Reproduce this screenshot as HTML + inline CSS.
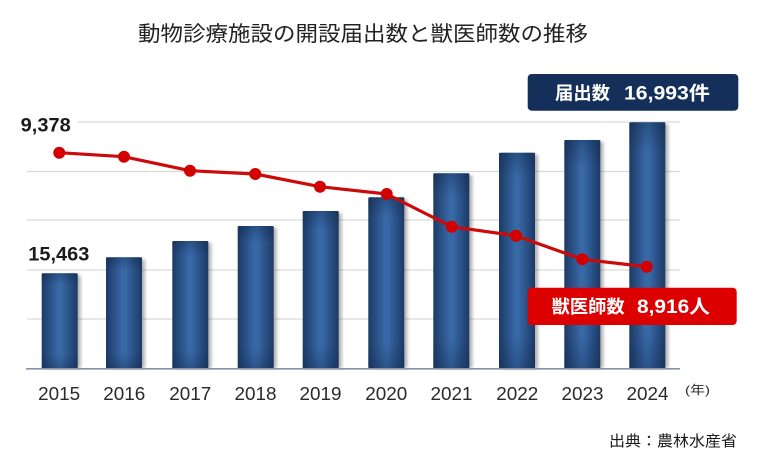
<!DOCTYPE html>
<html><head><meta charset="utf-8"><style>
html,body{margin:0;padding:0;background:#fff;}
svg{display:block;}
</style></head><body>
<svg width="767" height="461" viewBox="0 0 767 461" xmlns="http://www.w3.org/2000/svg">
<defs>
<linearGradient id="bh" x1="0" x2="1" y1="0" y2="0">
<stop offset="0" stop-color="#1c3a66"/>
<stop offset="0.45" stop-color="#3868a6"/>
<stop offset="0.55" stop-color="#3868a6"/>
<stop offset="1" stop-color="#1c3a66"/>
</linearGradient>
<linearGradient id="bv" x1="0" x2="0" y1="0" y2="1">
<stop offset="0" stop-color="#0d2345" stop-opacity="0.35"/>
<stop offset="0.12" stop-color="#0d2345" stop-opacity="0"/>
<stop offset="0.85" stop-color="#0d2345" stop-opacity="0"/>
<stop offset="1" stop-color="#0d2345" stop-opacity="0.3"/>
</linearGradient>
<filter id="sh" x="-30%" y="-10%" width="160%" height="120%"><feGaussianBlur stdDeviation="1.5"/></filter>
</defs>
<rect width="767" height="461" fill="#fff"/>
<text x="138" y="41" font-family="Liberation Sans, Noto Sans CJK JP, sans-serif" font-size="21" fill="#222" textLength="450" lengthAdjust="spacingAndGlyphs">動物診療施設の開設届出数と獣医師数の推移</text>

<!-- grid -->
<g stroke="#d9d9d9" stroke-width="1.2">
<line x1="78" y1="122" x2="680" y2="122"/>
<line x1="27" y1="171.5" x2="680" y2="171.5"/>
<line x1="27" y1="220" x2="680" y2="220"/>
<line x1="27" y1="270" x2="680" y2="270"/>
<line x1="27" y1="319" x2="680" y2="319"/>
</g>

<!-- bar shadows -->
<g fill="#555" opacity="0.45" filter="url(#sh)">
<rect x="44.7" y="275.3" width="36" height="93"/>
<rect x="109" y="259.3" width="36" height="109"/>
<rect x="175.3" y="243" width="36" height="125.5"/>
<rect x="240.7" y="228" width="36" height="140.5"/>
<rect x="305.7" y="213" width="36" height="155.5"/>
<rect x="371.3" y="199.3" width="36" height="169"/>
<rect x="436.3" y="175.3" width="36" height="193"/>
<rect x="502" y="154.7" width="36" height="214"/>
<rect x="567.3" y="142" width="36" height="226.5"/>
<rect x="632.3" y="124.3" width="36" height="244"/>
</g>
<!-- bars -->
<g>
<rect x="41.7" y="273.3" width="36" height="95.2" rx="1.5" fill="url(#bh)"/>
<rect x="106" y="257.3" width="36" height="111.2" rx="1.5" fill="url(#bh)"/>
<rect x="172.3" y="241" width="36" height="127.5" rx="1.5" fill="url(#bh)"/>
<rect x="237.7" y="226" width="36" height="142.5" rx="1.5" fill="url(#bh)"/>
<rect x="302.7" y="211" width="36" height="157.5" rx="1.5" fill="url(#bh)"/>
<rect x="368.3" y="197.3" width="36" height="171.2" rx="1.5" fill="url(#bh)"/>
<rect x="433.3" y="173.3" width="36" height="195.2" rx="1.5" fill="url(#bh)"/>
<rect x="499" y="152.7" width="36" height="215.8" rx="1.5" fill="url(#bh)"/>
<rect x="564.3" y="140" width="36" height="228.5" rx="1.5" fill="url(#bh)"/>
<rect x="629.3" y="122.3" width="36" height="246.2" rx="1.5" fill="url(#bh)"/>
</g>
<g>
<rect x="41.7" y="273.3" width="36" height="95.2" fill="url(#bv)"/>
<rect x="106" y="257.3" width="36" height="111.2" fill="url(#bv)"/>
<rect x="172.3" y="241" width="36" height="127.5" fill="url(#bv)"/>
<rect x="237.7" y="226" width="36" height="142.5" fill="url(#bv)"/>
<rect x="302.7" y="211" width="36" height="157.5" fill="url(#bv)"/>
<rect x="368.3" y="197.3" width="36" height="171.2" fill="url(#bv)"/>
<rect x="433.3" y="173.3" width="36" height="195.2" fill="url(#bv)"/>
<rect x="499" y="152.7" width="36" height="215.8" fill="url(#bv)"/>
<rect x="564.3" y="140" width="36" height="228.5" fill="url(#bv)"/>
<rect x="629.3" y="122.3" width="36" height="246.2" fill="url(#bv)"/>
</g>

<!-- baseline -->
<line x1="26" y1="368.8" x2="680" y2="368.8" stroke="#8793a3" stroke-width="1.6"/>

<!-- line series -->
<polyline fill="none" stroke="#cc0a0a" stroke-width="3.2" stroke-linejoin="round"
points="59.3,152.7 124,156.7 190,170.7 255.3,174 320,186.7 386.7,194 451.7,226.7 516,235.7 582.3,259.3 646.7,266.7"/>
<g fill="#d20000">
<circle cx="59.3" cy="152.7" r="6"/>
<circle cx="124" cy="156.7" r="6"/>
<circle cx="190" cy="170.7" r="6"/>
<circle cx="255.3" cy="174" r="6"/>
<circle cx="320" cy="186.7" r="6"/>
<circle cx="386.7" cy="194" r="6"/>
<circle cx="451.7" cy="226.7" r="6"/>
<circle cx="516" cy="235.7" r="6"/>
<circle cx="582.3" cy="259.3" r="6"/>
<circle cx="646.7" cy="266.7" r="6"/>
</g>

<!-- value labels -->
<text x="20.7" y="131.5" font-family="Liberation Sans, sans-serif" font-weight="bold" font-size="19" fill="#1a1a1a" textLength="50" lengthAdjust="spacingAndGlyphs">9,378</text>
<text x="28.3" y="260.5" font-family="Liberation Sans, sans-serif" font-weight="bold" font-size="19" fill="#1a1a1a" textLength="61" lengthAdjust="spacingAndGlyphs">15,463</text>

<!-- blue label -->
<rect x="527.7" y="74" width="210.6" height="36.7" rx="4" fill="#14305a"/>
<text x="555" y="99.5" font-family="Liberation Sans, Noto Sans CJK JP, sans-serif" font-weight="bold" font-size="18" fill="#fff" textLength="55" lengthAdjust="spacingAndGlyphs">届出数</text>
<text x="624" y="99.5" font-family="Liberation Sans, Noto Sans CJK JP, sans-serif" font-weight="bold" font-size="19" fill="#fff" textLength="86" lengthAdjust="spacingAndGlyphs">16,993件</text>

<!-- red label -->
<rect x="527.7" y="287.7" width="209" height="37.3" rx="4" fill="#dd0000"/>
<text x="551.7" y="313" font-family="Liberation Sans, Noto Sans CJK JP, sans-serif" font-weight="bold" font-size="18" fill="#fff" textLength="73" lengthAdjust="spacingAndGlyphs">獣医師数</text>
<text x="637" y="313" font-family="Liberation Sans, Noto Sans CJK JP, sans-serif" font-weight="bold" font-size="19" fill="#fff" textLength="73" lengthAdjust="spacingAndGlyphs">8,916人</text>

<!-- x labels -->
<g font-family="Liberation Sans, sans-serif" font-size="18" fill="#2a2a2a" text-anchor="middle">
<text x="59.2" y="400" textLength="42" lengthAdjust="spacingAndGlyphs">2015</text>
<text x="124.3" y="400" textLength="42" lengthAdjust="spacingAndGlyphs">2016</text>
<text x="190.3" y="400" textLength="42" lengthAdjust="spacingAndGlyphs">2017</text>
<text x="255.5" y="400" textLength="42" lengthAdjust="spacingAndGlyphs">2018</text>
<text x="320.5" y="400" textLength="42" lengthAdjust="spacingAndGlyphs">2019</text>
<text x="386.3" y="400" textLength="42" lengthAdjust="spacingAndGlyphs">2020</text>
<text x="451.5" y="400" textLength="42" lengthAdjust="spacingAndGlyphs">2021</text>
<text x="517.3" y="400" textLength="42" lengthAdjust="spacingAndGlyphs">2022</text>
<text x="582.5" y="400" textLength="42" lengthAdjust="spacingAndGlyphs">2023</text>
<text x="647.5" y="400" textLength="42" lengthAdjust="spacingAndGlyphs">2024</text>
</g>
<text x="685" y="394" font-family="Liberation Sans, Noto Sans CJK JP, sans-serif" font-size="12" fill="#2a2a2a" textLength="25" lengthAdjust="spacingAndGlyphs">(年)</text>
<text x="609" y="446" font-family="Liberation Sans, Noto Sans CJK JP, sans-serif" font-size="15" fill="#1a1a1a" textLength="128" lengthAdjust="spacingAndGlyphs">出典：農林水産省</text>
</svg>
</body></html>
